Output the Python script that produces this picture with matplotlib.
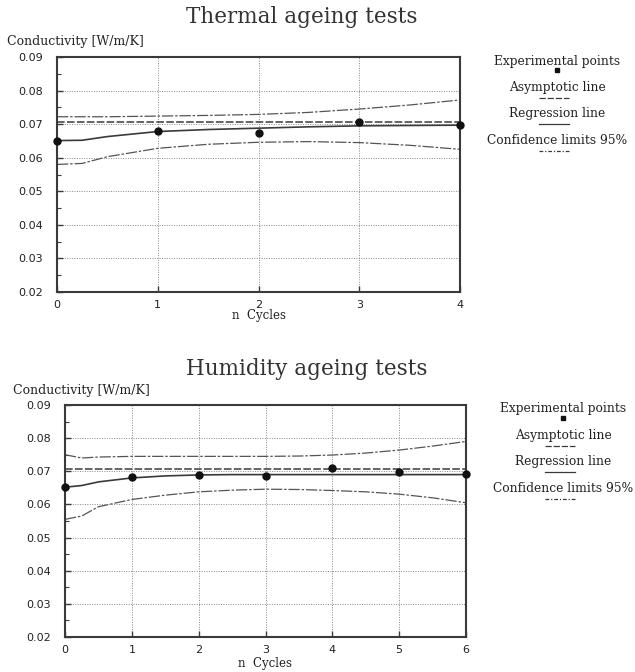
import matplotlib
matplotlib.use("Agg")
import matplotlib.pyplot as plt
from matplotlib.lines import Line2D
import numpy as np

W, H = 635, 672

## Thermal ageing data
th_cycles = [0, 1, 2, 3, 4]
th_points = [0.0651, 0.0680, 0.0674, 0.0705, 0.0697]
th_curve_x = [0, 0.25, 0.5, 1, 1.5, 2, 2.5, 3, 3.5, 4]
th_regression = [0.0651, 0.0652, 0.0663, 0.0678, 0.0684, 0.0688, 0.0692, 0.0695, 0.0696, 0.0697]
th_upper = [0.0722, 0.0722, 0.0722, 0.0724, 0.0726, 0.0729, 0.0735, 0.0745, 0.0757, 0.0772]
th_lower = [0.0580, 0.0583, 0.0603, 0.0628, 0.0640, 0.0646, 0.0648, 0.0645, 0.0637, 0.0625]
th_asymptote = 0.0707

## Humidity ageing data
hu_cycles = [0, 1, 2, 3, 4, 5, 6]
hu_points = [0.0653, 0.0683, 0.0690, 0.0686, 0.0710, 0.0699, 0.0692]
hu_curve_x = [0, 0.25, 0.5, 1, 1.5, 2, 2.5, 3, 3.5, 4, 4.5, 5, 5.5, 6]
hu_regression = [0.0652, 0.0657, 0.0668, 0.0680, 0.0686, 0.0689, 0.0690, 0.0690,
                 0.0690, 0.0690, 0.0690, 0.0690, 0.0690, 0.0690]
hu_upper = [0.0750, 0.0740, 0.0743, 0.0745, 0.0745, 0.0745, 0.0745, 0.0745,
            0.0746, 0.0749, 0.0755, 0.0764, 0.0776, 0.0790]
hu_lower = [0.0555, 0.0565, 0.0593, 0.0615, 0.0628, 0.0638, 0.0643, 0.0646,
            0.0645, 0.0642, 0.0638, 0.0631, 0.0620, 0.0605]
hu_asymptote = 0.0706

y_ticks = [0.02, 0.03, 0.04, 0.05, 0.06, 0.07, 0.08, 0.09]
y_labels = ["0.02", "0.03", "0.04", "0.05", "0.06", "0.07", "0.08", "0.09"]
legend_labels = ["Experimental points", "Asymptotic line", "Regression line", "Confidence limits 95%"]

ink = "#3a3a3a"
serif = "DejaVu Serif"
plt.rcParams["font.family"] = "DejaVu Sans"

fig = plt.figure(figsize=(W / 100, H / 100), dpi=100)


def fx(x):
    return x / W


def fy(y):
    return 1 - y / H


def panel(box, cycles, points, cx, reg, up, lo, asym, title, title_xy, ylab_xy, xlab_y, leg_x, leg_y):
    l, t, r, b = box
    ax = fig.add_axes([fx(l), fy(b), fx(r - l), (b - t) / H])
    n = cycles[-1]
    ax.set_xlim(0, n)
    ax.set_ylim(0.02, 0.09)
    ax.set_xticks(cycles)
    ax.set_xticklabels([str(c) for c in cycles], fontsize=8)
    ax.set_yticks(y_ticks)
    ax.set_yticklabels(y_labels, fontsize=8)
    ax.set_yticks(np.arange(0.025, 0.09, 0.01), minor=True)
    ax.tick_params(direction="in", length=4, width=1, color=ink, labelcolor="#222")
    ax.tick_params(axis="y", pad=10)
    ax.tick_params(axis="x", pad=6)
    ax.tick_params(which="minor", direction="in", length=3, width=0.8, color=ink)
    for s in ax.spines.values():
        s.set_linewidth(1.5)
        s.set_color(ink)
    ax.grid(True, linestyle=(0, (1, 1.5)), color="#888", linewidth=0.7)

    ax.axhline(asym, color=ink, lw=1.1, linestyle=(0, (5, 1.5)))
    ax.plot(cx, reg, color=ink, lw=1.2)
    ax.plot(cx, up, color="#555", lw=0.9, linestyle=(0, (9, 1.5, 2, 1.5)))
    ax.plot(cx, lo, color="#555", lw=0.9, linestyle=(0, (9, 1.5, 2, 1.5)))
    ax.plot(cycles, points, "o", color="#111", markersize=5, clip_on=False, zorder=5)

    fig.text(fx(title_xy[0]), fy(title_xy[1]), title, family=serif, fontsize=15.5,
             color="#333", ha="center", va="center")
    fig.text(fx(ylab_xy[0]), fy(ylab_xy[1]), "Conductivity [W/m/K]", family=serif,
             fontsize=9, color="#222", ha="left", va="center")
    fig.text(fx((l + r) / 2), fy(xlab_y), "n  Cycles", family=serif, fontsize=8.5,
             color="#222", ha="center", va="center")

    # hand-drawn legend, text with a sample underneath
    styles = [None, (0, (5, 1.5)), "-", (0, (3, 1.5, 1, 1.5))]
    for i, lab in enumerate(legend_labels):
        ty = leg_y + 26.5 * i
        fig.text(fx(leg_x), fy(ty), lab, family=serif, fontsize=8.8, color="#222",
                 ha="center", va="center")
        sy = ty + 10
        if styles[i] is None:
            fig.add_artist(Line2D([fx(leg_x)], [fy(sy - 1)], marker="s", markersize=3.5,
                                  color="#111", transform=fig.transFigure))
        else:
            fig.add_artist(Line2D([fx(leg_x - 18), fx(leg_x + 12)], [fy(sy), fy(sy)],
                                  color=ink, lw=0.9, linestyle=styles[i],
                                  transform=fig.transFigure))
    return ax


panel((57, 57, 460, 292), th_cycles, th_points, th_curve_x, th_regression, th_upper, th_lower,
      th_asymptote, "Thermal ageing tests", (302, 17), (7, 42), 316, 557, 61)
panel((65, 405, 466, 637), hu_cycles, hu_points, hu_curve_x, hu_regression, hu_upper, hu_lower,
      hu_asymptote, "Humidity ageing tests", (307, 369), (13, 390), 663, 563, 409)

fig.savefig("out.png", dpi=100)
